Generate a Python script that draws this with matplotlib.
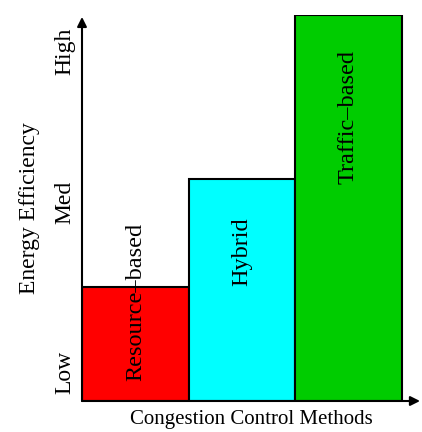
import matplotlib
matplotlib.use("Agg")
import matplotlib.pyplot as plt

methods = ["Resource\u2013based", "Hybrid", "Traffic\u2013based"]
efficiency = [2.95, 5.75, 10.0]
colors = ["#ff0000", "#00ffff", "#00cc00"]
label_y = [2.56, 3.86, 7.36]

level_names = ["Low", "Med", "High"]
level_pos = [0.75, 5.15, 9.05]

plt.rcParams["font.family"] = ["Liberation Serif", "DejaVu Serif"]

fig = plt.figure(figsize=(4.22, 4.32), dpi=100)
ax = fig.add_axes([82 / 422, 31 / 432, 338 / 422, 386 / 432])

x = range(len(methods))
ax.bar(x, efficiency, width=1.0, align="edge", color=colors,
       edgecolor="black", linewidth=1.5, zorder=2)

for i, name in enumerate(methods):
    ax.text(i + 0.5, label_y[i], name, rotation=90, ha="center", va="center",
            fontsize=17.5, zorder=3)

ax.set_xlim(0, 3.17)
ax.set_ylim(0, 10.0)

for s in ax.spines.values():
    s.set_visible(False)

# axis lines with arrow heads
ax.annotate("", xy=(1.0, 0), xytext=(0, 0), xycoords="axes fraction",
            arrowprops=dict(arrowstyle="-|>", color="black", lw=1.5,
                            mutation_scale=14, shrinkA=0, shrinkB=0),
            annotation_clip=False, zorder=4)
ax.annotate("", xy=(0, 0.995), xytext=(0, 0), xycoords="axes fraction",
            arrowprops=dict(arrowstyle="-|>", color="black", lw=1.5,
                            mutation_scale=14, shrinkA=0, shrinkB=0),
            annotation_clip=False, zorder=4)

ax.set_xticks([])
ax.set_yticks(level_pos)
ax.set_yticklabels(level_names, rotation=90, va="center", fontsize=17)
ax.tick_params(axis="y", length=0, pad=5)

ax.set_xlabel("Congestion Control Methods", fontsize=15)
ax.xaxis.set_label_coords(0.5, -0.023)
ax.set_ylabel("Energy Efficiency", fontsize=17)
ax.yaxis.set_label_coords(-0.124, 0.5)

fig.savefig("out.png", dpi=100)
